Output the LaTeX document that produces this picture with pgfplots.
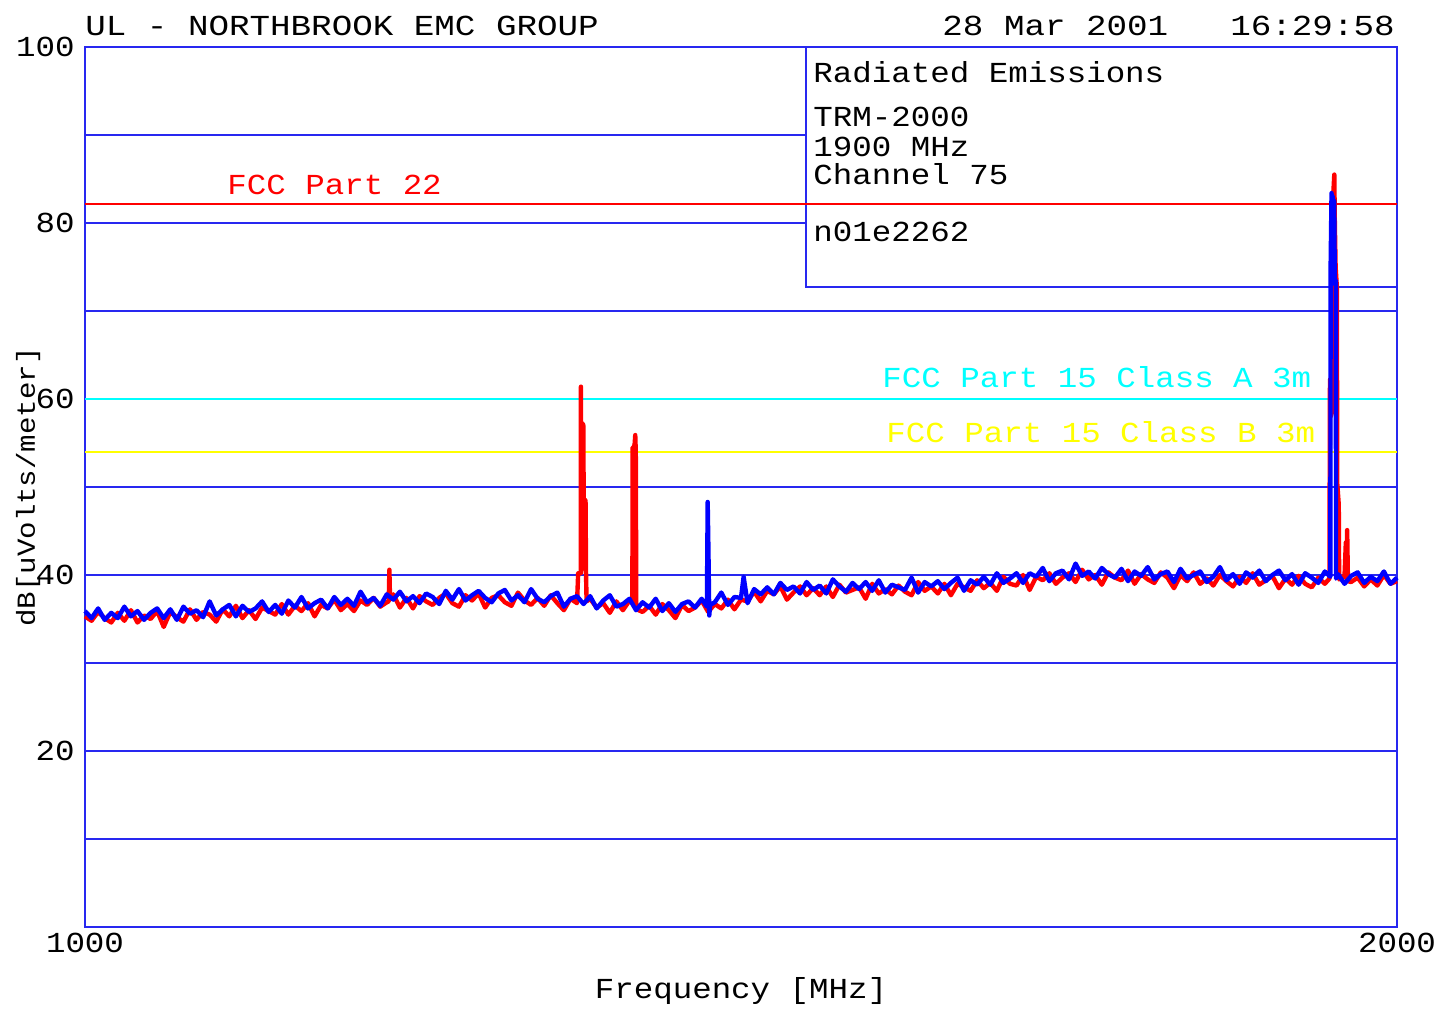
\documentclass[border=0pt]{standalone}
\usepackage{fontspec}
\setmainfont[FakeStretch=1.12]{Liberation Mono}
\newfontfamily\hdrfont[FakeStretch=1.18]{Liberation Mono}
\usepackage{pgfplots}
\pgfplotsset{compat=1.18}
\definecolor{gridblue}{RGB}{40,40,240}
\definecolor{tblue}{RGB}{0,0,255}
\definecolor{tred}{RGB}{255,0,0}
\definecolor{lcyan}{RGB}{0,255,255}
\definecolor{lyellow}{RGB}{255,255,0}
\newcommand\pf{\fontsize{14.5bp}{18bp}\selectfont}
\newcommand\hf{\hdrfont\fontsize{14.5bp}{18bp}\selectfont}
\begin{document}
\begin{tikzpicture}
\begin{axis}[at={(0,0)}, anchor=south west, scale only axis,
  width=656bp, height=440bp,
  xmin=1000, xmax=2000, ymin=0, ymax=100,
  axis line style={gridblue, line width=1bp},
  xtick={1000,2000}, xticklabels={1000,2000},
  ytick={20,40,60,80,100}, yticklabels={20,40,60,80,100},
  major tick length=0pt, tick style={draw=none},
  ticklabel style={font=\pf, inner sep=0pt},
  xticklabel style={anchor=north, yshift=-3bp},
  yticklabel style={anchor=east, xshift=-5bp},
  xlabel={Frequency [MHz]},
  xlabel style={font=\pf, inner sep=0pt, at={(axis description cs:0.5,-0.0818)}, anchor=base},
  ylabel={dB[uVolts/meter]},
  ylabel style={font=\fontsize{13bp}{16bp}\selectfont, inner sep=0pt, at={(axis description cs:-0.0434,0.5)}, anchor=center},
  clip=false]
% grid lines
\addplot[gridblue, line width=1bp] coordinates {(1000,90)(1549.5,90)};
\addplot[gridblue, line width=1bp] coordinates {(1000,80)(1549.5,80)};
\addplot[gridblue, line width=1bp] coordinates {(1000,70)(2000,70)};
\addplot[gridblue, line width=1bp] coordinates {(1000,60)(2000,60)};
\addplot[gridblue, line width=1bp] coordinates {(1000,50)(2000,50)};
\addplot[gridblue, line width=1bp] coordinates {(1000,40)(2000,40)};
\addplot[gridblue, line width=1bp] coordinates {(1000,30)(2000,30)};
\addplot[gridblue, line width=1bp] coordinates {(1000,20)(2000,20)};
\addplot[gridblue, line width=1bp] coordinates {(1000,10)(2000,10)};
% info box
\addplot[gridblue, line width=1bp] coordinates {(1549.5,100)(1549.5,72.7)(2000,72.7)};
% limit lines
\addplot[tred, line width=1bp] coordinates {(1000,82.2)(2000,82.2)};
\addplot[lcyan, line width=1bp] coordinates {(1000,60)(2000,60)};
\addplot[lyellow, line width=1bp] coordinates {(1000,54)(2000,54)};
% red trace
\addplot[tred, line width=2.2bp, line join=round] coordinates {
(1000,35.3)(1005,34.8)(1010,35.8)(1015,35.1)(1020,34.6)(1025,35.7)(1030,34.8)(1035,36.0)(1040,34.6)(1045,35.4)
(1050,35.0)(1055,35.9)(1060,34.1)(1065,35.8)(1070,35.2)(1075,34.7)(1080,36.1)(1085,34.9)(1090,35.8)(1095,35.5)
(1100,34.7)(1105,36.1)(1110,35.3)(1115,36.5)(1120,35.1)(1125,36.0)(1130,35.0)(1135,36.3)(1140,35.9)(1145,35.5)
(1150,36.7)(1155,35.5)(1160,36.5)(1165,35.9)(1170,36.8)(1175,35.3)(1180,36.6)(1185,36.2)(1190,37.2)(1195,36.0)
(1200,36.7)(1205,35.9)(1210,37.1)(1215,36.6)(1220,37.4)(1225,36.4)(1230,36.9)(1231.5,37.0)(1232,40.6)(1232.5,37.2)(1235,37.8)(1240,36.3)(1245,37.4)
(1250,36.2)(1255,37.6)(1260,37.0)(1265,36.6)(1270,37.4)(1275,37.9)(1280,36.8)(1285,36.4)(1290,37.7)(1295,37.1)
(1300,37.9)(1305,36.3)(1310,37.4)(1315,37.7)(1320,36.9)(1325,36.5)(1330,38.0)(1335,37.1)(1340,36.6)(1345,37.4)
(1350,36.5)(1355,37.7)(1360,36.8)(1365,36.0)(1370,37.3)(1375,36.8)
(1375.9,40.2)(1377.9,40.2)(1378.0,61.4)(1378.3,40.5)(1378.6,57.3)(1379.0,56.8)(1379.4,57.2)(1379.8,57.0)(1380.1,48.5)(1380.8,48.4)(1381.5,48.5)(1381.9,40.0)(1382.3,37.0)
(1385,37.3)(1390,36.3)(1395,36.8)
(1400,35.7)(1405,37.0)(1410,36.0)(1415,37.1)
(1417.2,37.0)(1417.4,54.5)(1418.0,54.3)(1418.6,54.6)(1419.0,55.0)(1419.4,55.9)(1419.8,54.0)(1420.2,36.5)
(1420.5,36.1)(1425,35.8)(1430,36.5)(1435,35.5)(1440,36.7)(1445,36.0)
(1450,35.1)(1455,36.6)(1460,35.9)(1465,36.3)(1470,37.1)(1475,35.8)(1480,36.7)(1485,36.2)(1490,37.2)(1495,36.1)
(1500,37.2)(1505,37.0)(1510,38.1)(1515,37.0)(1520,38.2)(1525,37.8)(1530,38.7)(1535,37.2)(1540,38.0)(1545,38.7)
(1550,37.7)(1555,38.5)(1560,37.7)(1565,38.7)(1570,37.5)(1575,38.9)(1580,38.0)(1585,38.3)(1590,38.6)(1595,37.3)
(1600,39.0)(1605,37.9)(1610,38.4)(1615,37.8)(1620,38.8)(1625,38.1)(1630,37.7)(1635,39.2)(1640,38.2)(1645,38.7)
(1650,37.9)(1655,39.0)(1660,37.7)(1665,39.0)(1670,38.6)(1675,38.2)(1680,39.4)(1685,38.5)(1690,39.1)(1695,38.2)
(1700,39.8)(1705,39.0)(1710,38.8)(1715,40.0)(1720,38.3)(1725,39.8)(1730,39.4)(1735,40.2)(1740,39.0)(1745,39.7)
(1750,40.2)(1755,39.2)(1760,40.6)(1765,39.5)(1770,40.0)(1775,38.9)(1780,40.3)(1785,39.7)(1790,39.4)(1795,40.5)
(1800,39.0)(1805,40.1)(1810,39.5)(1815,39.1)(1820,40.3)(1825,39.7)(1830,38.5)(1835,40.0)(1840,39.3)(1845,40.3)
(1850,39.0)(1855,39.6)(1860,38.8)(1865,40.0)(1870,39.3)(1875,38.7)(1880,39.8)(1885,39.1)(1890,40.2)(1895,38.9)
(1900,39.4)(1905,39.9)(1910,38.5)(1915,39.6)(1920,38.9)(1925,39.9)(1930,39.0)(1935,38.6)(1940,39.7)(1945,39.0)
(1948.5,39.6)(1948.9,62.2)(1949.5,58.0)(1950.4,58.5)(1950.6,82.5)(1951.5,83.5)(1952.2,85.5)(1952.6,80.0)(1953.2,75.0)(1954.2,72.6)(1954.4,50.5)(1955.6,48.0)(1955.9,39.5)
(1960,39.9)(1961,43.7)(1961.4,39.6)(1962,45.1)(1962.6,39.3)(1965,39.2)(1970,39.7)(1975,38.7)(1980,39.5)(1985,38.8)(1990,40.0)(1995,39.0)(2000,39.3)
};
% blue trace
\addplot[tblue, line width=2.2bp, line join=round] coordinates {
(1000,35.9)(1005,35.1)(1010,36.2)(1015,34.9)(1020,35.7)(1025,35.1)(1030,36.4)(1035,35.3)(1040,35.9)(1045,34.9)
(1050,35.7)(1055,36.2)(1060,35.1)(1065,36.1)(1070,34.9)(1075,36.4)(1080,35.6)(1085,36.0)(1090,35.2)(1095,37.0)
(1100,35.4)(1105,36.1)(1110,36.6)(1115,35.3)(1120,36.5)(1125,35.8)(1130,36.2)(1135,37.0)(1140,35.8)(1145,36.6)
(1150,35.6)(1155,37.1)(1160,36.3)(1165,37.5)(1170,36.2)(1175,36.8)(1180,37.2)(1185,36.2)(1190,37.5)(1195,36.6)
(1200,37.3)(1205,36.5)(1210,38.1)(1215,36.9)(1220,37.4)(1225,36.5)(1230,37.8)(1235,37.2)(1240,38.1)(1245,37.0)
(1250,37.6)(1255,36.8)(1260,37.9)(1265,37.5)(1270,36.7)(1275,38.2)(1280,37.2)(1285,38.4)(1290,37.1)(1295,37.7)
(1300,38.2)(1305,37.4)(1310,36.9)(1315,37.9)(1320,38.3)(1325,37.1)(1330,37.7)(1335,36.9)(1340,38.4)(1345,37.3)
(1350,36.9)(1355,37.6)(1360,38.0)(1365,36.4)(1370,37.3)(1375,37.6)(1380,36.7)(1385,37.6)(1390,36.2)(1395,37.1)
(1400,37.7)(1405,36.4)(1410,36.7)(1415,37.3)(1420,36.0)(1425,36.9)(1430,36.3)(1435,37.3)(1440,35.9)(1445,36.8)
(1450,35.8)(1455,36.7)(1460,37.0)(1465,36.3)(1470,37.3)
(1474,36.4)(1474.6,48.3)(1475.2,42.5)(1475.8,35.4)(1476.5,36.6)
(1480,36.9)(1485,38.0)(1490,36.6)(1495,37.5)
(1500,37.4)(1502,39.8)(1505,36.8)(1510,38.4)(1515,37.8)(1520,38.6)(1525,37.8)(1530,39.1)(1535,38.3)(1540,38.7)(1545,37.9)
(1550,39.2)(1555,38.3)(1560,38.8)(1565,37.9)(1570,39.5)(1575,38.7)(1580,38.1)(1585,39.1)(1590,38.4)(1595,39.2)
(1600,38.2)(1605,39.4)(1610,38.0)(1615,38.9)(1620,38.6)(1625,38.3)(1630,39.7)(1635,38.0)(1640,39.2)(1645,38.7)
(1650,39.3)(1655,38.4)(1660,39.1)(1665,39.7)(1670,38.2)(1675,39.4)(1680,38.9)(1685,39.8)(1690,38.9)(1695,40.2)
(1700,39.1)(1705,39.6)(1710,40.2)(1715,39.1)(1720,40.2)(1725,39.8)(1730,40.8)(1735,39.3)(1740,40.2)(1745,40.5)
(1750,39.5)(1755,41.3)(1760,39.9)(1765,40.4)(1770,39.6)(1775,40.8)(1780,40.1)(1785,39.7)(1790,40.7)(1795,39.3)
(1800,40.4)(1805,39.9)(1810,40.9)(1815,39.5)(1820,40.1)(1825,40.4)(1830,39.2)(1835,40.7)(1840,39.6)(1845,40.0)
(1850,40.4)(1855,39.2)(1860,39.8)(1865,40.9)(1870,39.4)(1875,40.1)(1880,39.0)(1885,40.3)(1890,39.7)(1895,40.5)
(1900,39.3)(1905,40.0)(1910,40.5)(1915,39.4)(1920,40.1)(1925,38.9)(1930,40.2)(1935,39.7)(1940,39.1)(1945,40.4)
(1949.2,39.8)(1949.4,75)(1950.1,83.4)(1950.6,76)(1951.0,83.0)(1951.5,74)(1952.1,82.5)(1952.6,73)(1953.4,73.5)(1953.5,39.6)
(1955,40.1)(1960,39.0)(1965,39.9)(1970,40.3)(1975,39.1)(1980,39.8)(1985,39.3)(1990,40.4)(1995,39.0)(2000,39.7)
};
% labels
\node[font=\pf, text=tred, anchor=base west, inner sep=0pt] at (axis cs:1108.2,83.2) {FCC Part 22};
\node[font=\pf, text=lcyan, anchor=base west, inner sep=0pt] at (axis cs:1607.5,61.36) {FCC Part 15 Class A 3m};
\node[font=\pf, text=lyellow, anchor=base west, inner sep=0pt] at (axis cs:1610.5,55.0) {FCC Part 15 Class B 3m};
\node[font=\pf, anchor=base west, inner sep=0pt] at (axis cs:1554.9,96.02) {Radiated Emissions};
\node[font=\pf, anchor=base west, inner sep=0pt] at (axis cs:1554.9,90.91) {TRM-2000};
\node[font=\pf, anchor=base west, inner sep=0pt] at (axis cs:1554.9,87.61) {1900 MHz};
\node[font=\pf, anchor=base west, inner sep=0pt] at (axis cs:1554.9,84.32) {Channel 75};
\node[font=\pf, anchor=base west, inner sep=0pt] at (axis cs:1554.9,77.84) {n01e2262};
\node[font=\hf, anchor=base west, inner sep=0pt] at (axis cs:1000,101.36) {UL - NORTHBROOK EMC GROUP};
\node[font=\hf, anchor=base west, inner sep=0pt] at (axis cs:1653.2,101.36) {28 Mar 2001};
\node[font=\hf, anchor=base east, inner sep=0pt] at (axis cs:1998.5,101.36) {16:29:58};
\end{axis}
\pgfresetboundingbox
\path[use as bounding box] (-42.5bp,-41bp) rectangle (675.5bp,463.5bp);
\end{tikzpicture}
\end{document}
